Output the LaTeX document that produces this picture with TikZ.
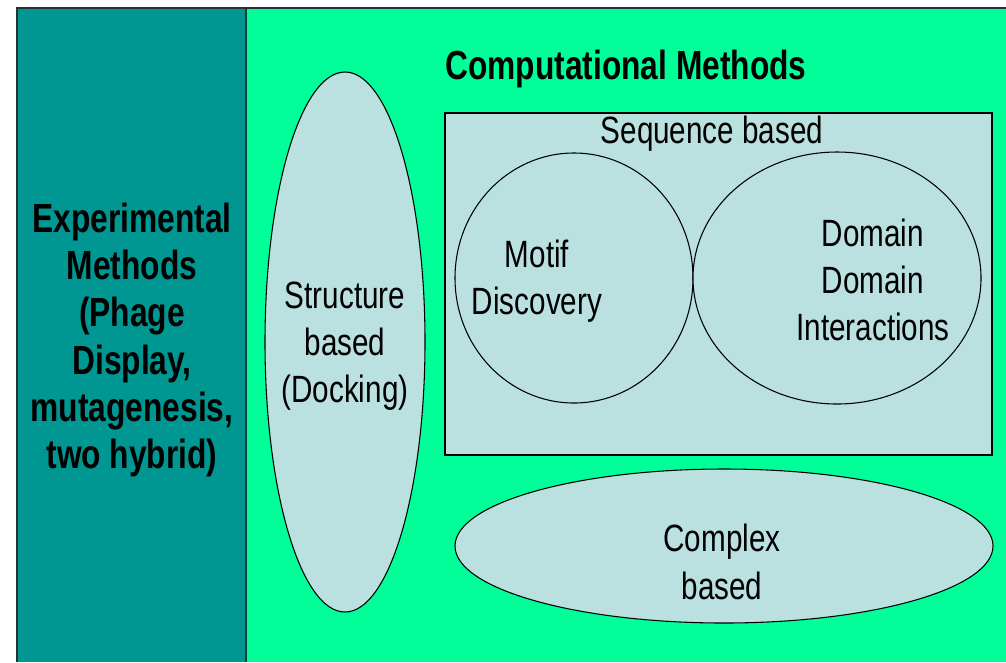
\documentclass[tikz,border=0pt]{standalone}
\usepackage{fontspec}
\setmainfont[FakeStretch=0.78]{Liberation Sans}
\usetikzlibrary{positioning}
\definecolor{tealband}{RGB}{0,150,145}
\definecolor{mint}{RGB}{0,255,153}
\definecolor{paleblue}{RGB}{186,224,224}

\begin{document}
\begin{tikzpicture}[x=0.75pt,y=0.75pt,yscale=-1,xscale=1,
  blob/.style={draw=black,fill=paleblue,line width=0.8pt},
  plain/.style={inner sep=0.75pt,align=center,font=\fontsize{28.5}{35.5}\selectfont},
  heavy/.style={inner sep=0.75pt,align=center,font=\bfseries\fontsize{30.5}{35.5}\selectfont}]
  \useasboundingbox (0,0) rectangle (1006,662);

  %Shape: Rectangle [id:left band]
  \fill [tealband] (17,8) rectangle (246,662);
  %Shape: Rectangle [id:right field]
  \fill [mint] (246,8) rectangle (1006,662);
  %Straight Lines [id:frame]
  \draw [color={rgb, 255:red, 40; green, 50; blue, 50 },line width=1.2pt] (17,662) -- (17,8) -- (1006,8) ;
  \draw [color={rgb, 255:red, 20; green, 60; blue, 50 },line width=1pt] (246,8) -- (246,662) ;

  %Shape: Ellipse [id:structure]
  \draw [blob] (345,342) ellipse [x radius=80, y radius=270];
  %Shape: Rectangle [id:sequence]
  \draw [blob] (445,113) rectangle (992,455);
  %Shape: Circle [id:motif]
  \draw [blob] (574,278) ellipse [x radius=119, y radius=125];
  %Shape: Ellipse [id:domain]
  \draw [blob] (837,278) ellipse [x radius=144, y radius=126];
  %Shape: Ellipse [id:complex]
  \draw [blob] (724,546) ellipse [x radius=269, y radius=77];

  % Text Node
  \node [heavy] (expt) at (132,340) {Experimental\\Methods\\(Phage\\Display,\\mutagenesis,\\two hybrid)};
  % Text Node
  \node [heavy] (comp) at (626,69) {Computational Methods};
  % Text Node
  \node [plain] (seq) at (712,134) {Sequence based};
  % Text Node
  \node [plain] (struct) at (345,346) {Structure\\based\\(Docking)};
  % Text Node
  \node [plain] (motiftxt) at (537,281) {Motif\\Discovery};
  % Text Node
  \node [plain] (domtxt) at (873,280) {Domain\\Domain\\Interactions};
  % Text Node
  \node [plain] (cplx) at (722,562) {Complex\\based};
\end{tikzpicture}
\end{document}
